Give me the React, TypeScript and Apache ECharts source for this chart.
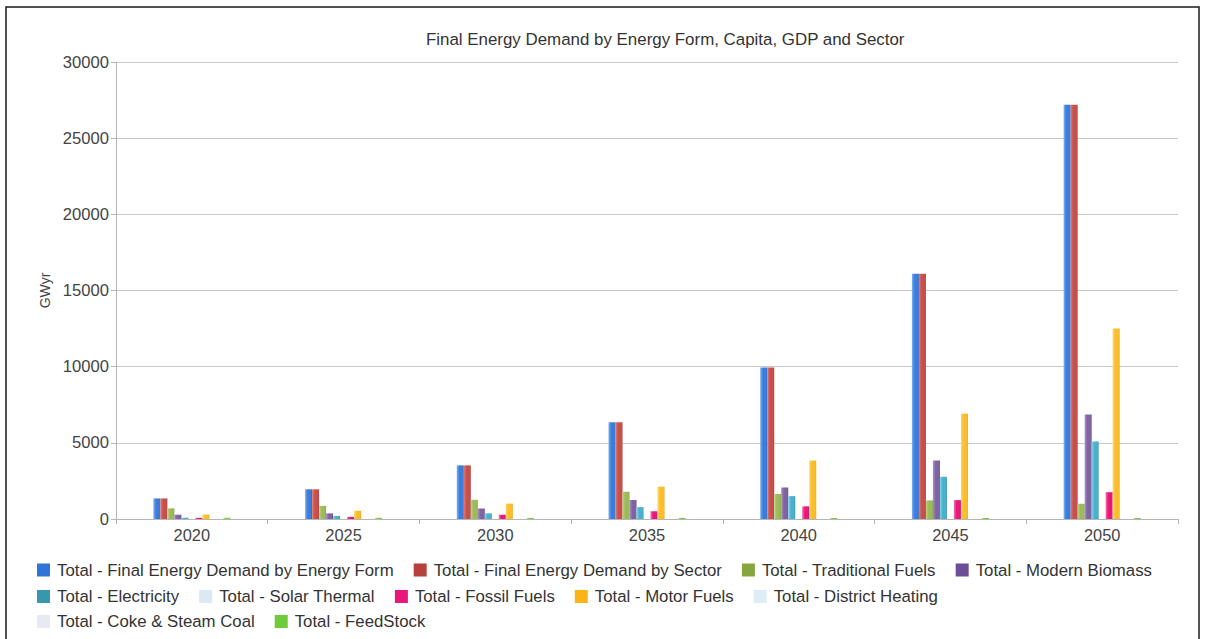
import React, { useEffect, useRef } from "react";
import * as echarts from "echarts";

// Years on the category axis
const years = ["2020", "2025", "2030", "2035", "2040", "2045", "2050"];

// Y axis tick range (GWyr)
const yMin = 0;
const yMax = 30000;
const yStep = 5000;

// Series values, GWyr
const finalByForm = [1350, 1950, 3520, 6350, 9950, 16100, 27200];
const finalBySector = [1350, 1950, 3520, 6350, 9950, 16100, 27200];
const traditionalFuels = [700, 860, 1260, 1790, 1640, 1220, 1000];
const modernBiomass = [280, 370, 690, 1250, 2070, 3840, 6860];
const electricity = [85, 200, 370, 780, 1500, 2770, 5090];
const solarThermal = [0, 0, 0, 0, 0, 0, 0];
const fossilFuels = [80, 140, 280, 510, 830, 1240, 1760];
const motorFuels = [290, 540, 1010, 2120, 3840, 6920, 12500];
const districtHeating = [0, 0, 0, 0, 0, 0, 0];
const cokeSteamCoal = [0, 0, 0, 0, 0, 0, 0];
const feedStock = [80, 80, 75, 75, 70, 70, 70];

const seriesNames = [
  "Total - Final Energy Demand by Energy Form",
  "Total - Final Energy Demand by Sector",
  "Total - Traditional Fuels",
  "Total - Modern Biomass",
  "Total - Electricity",
  "Total - Solar Thermal",
  "Total - Fossil Fuels",
  "Total - Motor Fuels",
  "Total - District Heating",
  "Total - Coke & Steam Coal",
  "Total - FeedStock",
];

const seriesValues = [
  finalByForm,
  finalBySector,
  traditionalFuels,
  modernBiomass,
  electricity,
  solarThermal,
  fossilFuels,
  motorFuels,
  districtHeating,
  cokeSteamCoal,
  feedStock,
];

// Solid swatch colours (legend) and [light, base, dark] shades for bar gradients
const swatchColors = [
  "#2f74d6", "#b5403c", "#86a53f", "#6a4f96", "#3797ad", "#dde8f5",
  "#e8177b", "#fbb317", "#dcedf6", "#e9e9f4", "#6fcb3a",
];
const barShades: string[][] = [
  ["#7aaef2", "#3b7dda", "#2a62c0"],
  ["#e27a74", "#c8504b", "#a33d39"],
  ["#bdd38a", "#9bbb59", "#7e9a44"],
  ["#a590c8", "#8064a2", "#624b84"],
  ["#86d6ea", "#4bb0cb", "#3a8fa6"],
  ["#eef4fb", "#dde8f5", "#c9d8ea"],
  ["#f46aa8", "#e8177b", "#c01060"],
  ["#ffd66e", "#fbbd2a", "#e6a412"],
  ["#eef7fb", "#dcedf6", "#c6dfeb"],
  ["#f4f4fa", "#e9e9f4", "#d6d6e6"],
  ["#a8e27e", "#7bcd45", "#5fae33"],
];

const FONT = "'Liberation Sans', Arial, sans-serif";

function barGradient(shades: string[]) {
  return new echarts.graphic.LinearGradient(0, 0, 1, 0, [
    { offset: 0, color: shades[0] },
    { offset: 0.4, color: shades[1] },
    { offset: 0.85, color: shades[1] },
    { offset: 1, color: shades[2] },
  ]);
}

function legendRow(names: string[], top: number) {
  return {
    top,
    left: 37,
    padding: 0,
    orient: "horizontal",
    itemWidth: 13,
    itemHeight: 13,
    itemGap: 20,
    icon: "rect",
    selectedMode: false,
    textStyle: {
      fontFamily: FONT,
      fontSize: 16.8,
      color: "#333",
      padding: [0, 0, 0, 2],
      lineHeight: 20,
    },
    data: names.map((n) => ({
      name: n,
      itemStyle: { color: swatchColors[seriesNames.indexOf(n)] },
    })),
  };
}

export default function App() {
  const ref = useRef<HTMLDivElement>(null);

  useEffect(() => {
    if (!ref.current) return;
    const chart = echarts.init(ref.current, null, { renderer: "svg" });

    const series = seriesNames.map((name, i) => ({
      name,
      type: "bar",
      data: seriesValues[i],
      barWidth: 7,
      barGap: "0%",
      itemStyle: { color: barGradient(barShades[i]) },
    }));

    chart.setOption({
      animation: false,
      backgroundColor: "#ffffff",
      title: {
        text: "Final Energy Demand by Energy Form, Capita, GDP and Sector",
        left: 426,
        top: 31,
        padding: 0,
        textStyle: {
          fontFamily: FONT,
          fontSize: 16.9,
          fontWeight: "normal",
          color: "#333",
        },
      },
      legend: [
        legendRow(seriesNames.slice(0, 4), 560),
        legendRow(seriesNames.slice(4, 9), 586.5),
        legendRow(seriesNames.slice(9), 611.5),
      ],
      grid: { left: 116, right: 28, top: 62, bottom: 120, containLabel: false },
      xAxis: {
        type: "category",
        data: years,
        axisLine: { lineStyle: { color: "#b5b5b5", width: 1 } },
        axisTick: { show: true, length: 5, lineStyle: { color: "#b5b5b5" } },
        axisLabel: {
          fontFamily: FONT,
          fontSize: 16.4,
          color: "#444",
          margin: 8,
        },
      },
      yAxis: {
        type: "value",
        min: yMin,
        max: yMax,
        interval: yStep,
        name: "GWyr",
        nameLocation: "middle",
        nameGap: 64,
        nameTextStyle: { fontFamily: FONT, fontSize: 14, color: "#444" },
        axisLine: { show: true, lineStyle: { color: "#b5b5b5", width: 1 } },
        axisTick: { show: true, length: 5, lineStyle: { color: "#b5b5b5" } },
        axisLabel: {
          fontFamily: FONT,
          fontSize: 16.6,
          color: "#444",
          margin: 7,
          formatter: (v: number) => String(v),
        },
        splitLine: { lineStyle: { color: "#c8c8c8", width: 1 } },
      },
      graphic: [
        {
          type: "rect",
          shape: { x: 6, y: 7, width: 1193, height: 640 },
          style: { fill: "none", stroke: "#1a1a1a", lineWidth: 1.5 },
          silent: true,
          z: 100,
        },
      ],
      series,
    });

    return () => chart.dispose();
  }, []);

  return (
    <div
      ref={ref}
      style={{ position: "absolute", left: 0, top: 0, width: 1206, height: 639 }}
    />
  );
}
